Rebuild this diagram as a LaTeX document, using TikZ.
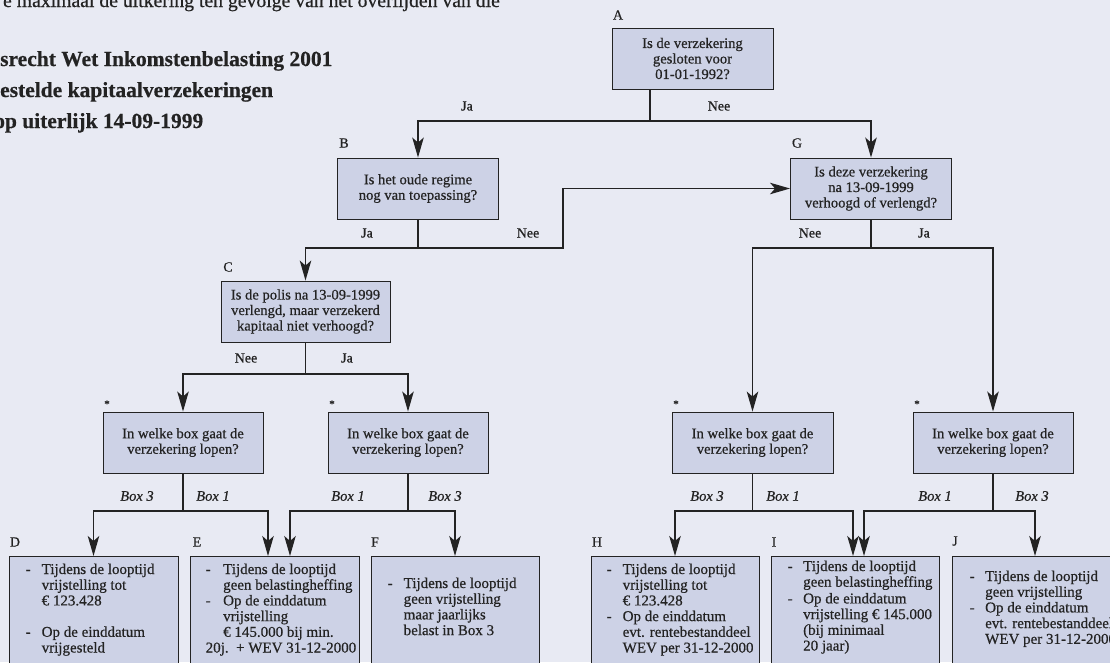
\documentclass[tikz,border=0pt]{standalone}
\usepackage{fontspec}
\setmainfont{Liberation Serif}[FakeBold=0.6]
\usetikzlibrary{arrows.meta,calc}
\definecolor{bg}{HTML}{E8EAF3}
\definecolor{boxfill}{HTML}{CDD2E6}
\definecolor{ink}{HTML}{232323}
\newcommand{\dl}[1]{\makebox[16pt][l]{-}#1}
\newcommand{\il}[1]{\hspace*{16pt}#1}
\begin{document}
\begin{tikzpicture}[x=1pt,y=-1pt,
  qbox/.style={draw=ink, line width=0.9pt, fill=boxfill, minimum height=61pt, inner sep=0pt, align=center, font=\fontsize{14.6}{15.5}\selectfont, text=ink},
  bbox/.style={draw=ink, line width=0.9pt, fill=boxfill, minimum height=130pt, inner sep=0pt, anchor=north},
  btxt/.style={anchor=base west, inner sep=0pt, text=ink, font=\fontsize{15}{15.7}\selectfont},
  lbl/.style={font=\fontsize{14}{14}\selectfont, text=ink, inner sep=0pt},
  blbl/.style={font=\fontsize{14.5}{14}\selectfont\itshape, text=ink, inner sep=0pt},
  star/.style={font=\fontsize{11}{11}\selectfont, text=ink, inner sep=0pt},
  head/.style={font=\fontsize{21.5}{21.5}\selectfont\bfseries, text=ink, inner sep=0pt, anchor=base west},
  con/.style={draw=ink, line width=1.3pt},
  arr/.style={con, -{Stealth[length=20pt,width=11.5pt,inset=5pt]}},
]
\useasboundingbox (0,0) rectangle (1110,662);
\fill[bg] (0,0) rectangle (1110,662);
\clip (0,0) rectangle (1110,662);

% header text
\node[font=\fontsize{19.7}{19.7}\selectfont, text=ink, inner sep=0pt, anchor=base east] (top) at (500,7) {e maximaal de uitkering ten gevolge van het overlijden van die};
\node[head] (h1) at (0,66) {srecht Wet Inkomstenbelasting 2001};
\node[head] (h2) at (0,97) {estelde kapitaalverzekeringen};
\node[head] (h3) at (-6,128) {op uiterlijk 14-09-1999};

% question boxes
\node[qbox, minimum width=161pt] (A) at (692.5,58.5) {Is de verzekering\\gesloten voor\\01-01-1992?};
\node[qbox, minimum width=161pt] (B) at (418,188.5) {Is het oude regime\\nog van toepassing?};
\node[qbox, minimum width=161pt] (G) at (871,188.5) {Is deze verzekering\\na 13-09-1999\\verhoogd of verlengd?};
\node[qbox, minimum width=169pt] (C) at (305.5,311.5) {Is de polis na 13-09-1999\\verlengd, maar verzekerd\\kapitaal niet verhoogd?};
\node[qbox, minimum width=160pt] (q1) at (183,442.5) {In welke box gaat de\\verzekering lopen?};
\node[qbox, minimum width=160pt] (q2) at (408,442.5) {In welke box gaat de\\verzekering lopen?};
\node[qbox, minimum width=161pt] (q3) at (752.5,442.5) {In welke box gaat de\\verzekering lopen?};
\node[qbox, minimum width=160pt] (q4) at (993,442.5) {In welke box gaat de\\verzekering lopen?};

% letter labels
\node[lbl] (lA) at (618,15) {A};
\node[lbl] (lB) at (344,143) {B};
\node[lbl] (lG) at (797,143) {G};
\node[lbl] (lC) at (228,267) {C};
\node[lbl] (lD) at (15,542) {D};
\node[lbl] (lE) at (197,542) {E};
\node[lbl] (lF) at (375,542) {F};
\node[lbl] (lH) at (597,542) {H};
\node[lbl] (lI) at (774,542) {I};
\node[lbl] (lJ) at (955,541) {J};
\node[star] (s1) at (107,404) {*};
\node[star] (s2) at (332,404) {*};
\node[star] (s3) at (676,404) {*};
\node[star] (s4) at (917,404) {*};

% result boxes
\node[bbox, minimum width=169pt] (D) at (93.5,556) {};
\node[bbox, minimum width=169pt] (E) at (274.5,556) {};
\node[bbox, minimum width=168pt] (F) at (455,556) {};
\node[bbox, minimum width=168pt] (H) at (675,556) {};
\node[bbox, minimum width=168pt] (I) at (855,556) {};
\node[bbox, minimum width=166pt] (J) at (1035,556) {};

\node[btxt] (Dt) at (25.5,574) {\parbox[t]{160pt}{\dl{Tijdens de looptijd}\\\il{vrijstelling tot}\\\il{€ 123.428}\\\mbox{}\\\dl{Op de einddatum}\\\il{vrijgesteld}}};
\node[btxt] (Et) at (205.5,574) {\parbox[t]{160pt}{\makebox[17.5pt][l]{-}Tijdens de looptijd\\\hspace*{17.5pt}geen belastingheffing\\\makebox[17.5pt][l]{-}Op de einddatum\\\hspace*{17.5pt}vrijstelling\\\hspace*{17.5pt}€ 145.000 bij min.\\20j.\ \ + WEV 31-12-2000}};
\node[btxt] (Ft) at (387.5,588) {\parbox[t]{160pt}{\dl{Tijdens de looptijd}\\\il{geen vrijstelling}\\\il{maar jaarlijks}\\\il{belast in Box 3}}};
\node[btxt] (Ht) at (606.5,574) {\parbox[t]{160pt}{\dl{Tijdens de looptijd}\\\il{vrijstelling tot}\\\il{€ 123.428}\\\dl{Op de einddatum}\\\il{evt. rentebestanddeel}\\\il{WEV per 31-12-2000}}};
\node[btxt] (It) at (787.5,571) {\parbox[t]{160pt}{\makebox[15.5pt][l]{-}Tijdens de looptijd\\\hspace*{15.5pt}geen belastingheffing\\[1pt]\makebox[15.5pt][l]{-}Op de einddatum\\\hspace*{15.5pt}vrijstelling € 145.000\\\hspace*{15.5pt}(bij minimaal\\\hspace*{15.5pt}20 jaar)}};
\node[btxt] (Jt) at (969.5,581) {\parbox[t]{160pt}{\makebox[15.5pt][l]{-}Tijdens de looptijd\\\hspace*{15.5pt}geen vrijstelling\\\makebox[15.5pt][l]{-}Op de einddatum\\\hspace*{15.5pt}evt. rentebestanddeel\\\hspace*{15.5pt}WEV per 31-12-2000}};

% junction coordinates
\coordinate (aj) at (650,121);
\coordinate (bj) at (418,248);
\coordinate (bn) at (563,248);
\coordinate (gj) at (871,248);
\coordinate (cj) at (305.5,374);
\coordinate (j1) at (183,511);
\coordinate (j2) at (408,511);
\coordinate (j3) at (752.5,511);
\coordinate (j4) at (993,511);
\coordinate (E1) at (268,556);
\coordinate (E2) at (290,556);
\coordinate (I1) at (853,556);
\coordinate (I2) at (864,556);

% connectors
\draw[con] (A.south -| aj) -- (aj);
\draw[arr] (aj) -| (B.north);
\draw[arr] (aj) -| (G.north);
\draw[con] (B.south) -- (bj);
\draw[arr] (bj) -| (C.north);
\draw[arr] (bj) -- (bn) |- (G.west);
\draw[con] (G.south) -- (gj);
\draw[arr] (gj) -| (q3.north);
\draw[arr] (gj) -| (q4.north);
\draw[con] (C.south) -- (cj);
\draw[arr] (cj) -| (q1.north);
\draw[arr] (cj) -| (q2.north);
\draw[con] (q1.south) -- (j1);
\draw[arr] (j1) -| (D.north);
\draw[arr] (j1) -| (E1);
\draw[con] (q2.south) -- (j2);
\draw[arr] (j2) -| (E2);
\draw[arr] (j2) -| (F.north);
\draw[con] (q3.south) -- (j3);
\draw[arr] (j3) -| (H.north);
\draw[arr] (j3) -| (I1);
\draw[con] (q4.south) -- (j4);
\draw[arr] (j4) -| (I2);
\draw[arr] (j4) -| (J.north);

% branch labels
\node[lbl] (ja1) at (467,106) {Ja};
\node[lbl] (ne1) at (719,106) {Nee};
\node[lbl] (ja2) at (367,233) {Ja};
\node[lbl] (ne2) at (528,233) {Nee};
\node[lbl] (ne3) at (810,233) {Nee};
\node[lbl] (ja3) at (924,233) {Ja};
\node[lbl] (ne4) at (246,358) {Nee};
\node[lbl] (ja4) at (347,358) {Ja};
\node[blbl] (b1a) at (137,496) {Box 3};
\node[blbl] (b1b) at (213,496) {Box 1};
\node[blbl] (b2a) at (348,496) {Box 1};
\node[blbl] (b2b) at (445,496) {Box 3};
\node[blbl] (b3a) at (707,496) {Box 3};
\node[blbl] (b3b) at (783,496) {Box 1};
\node[blbl] (b4a) at (935,496) {Box 1};
\node[blbl] (b4b) at (1032,496) {Box 3};
\end{tikzpicture}
\end{document}
